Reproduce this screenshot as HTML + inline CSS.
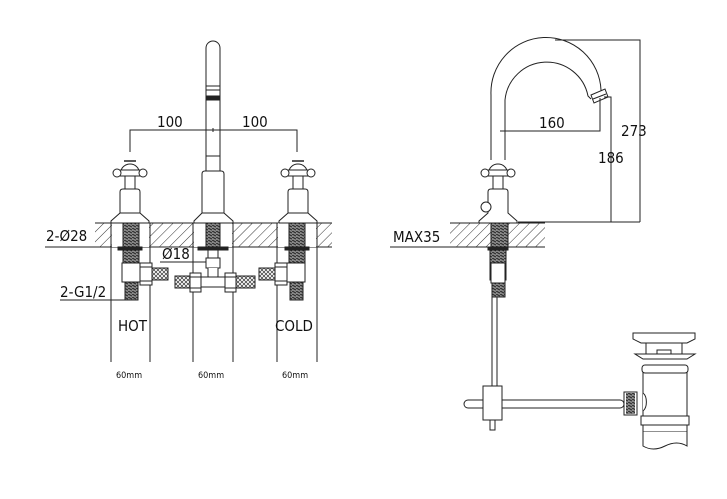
<!DOCTYPE html>
<html><head><meta charset="utf-8"><style>
html,body{margin:0;padding:0;background:#fff;}
svg{display:block;}
text{font-family:"DejaVu Sans Condensed","Liberation Sans",sans-serif;fill:#111;}
</style></head><body>
<svg width="727" height="499" viewBox="0 0 727 499" xmlns="http://www.w3.org/2000/svg">
<defs>
<pattern id="h" width="7" height="7" patternUnits="userSpaceOnUse" patternTransform="rotate(45)">
<rect width="7" height="7" fill="#fff"/><line x1="0" y1="0" x2="0" y2="7" stroke="#333" stroke-width="1"/>
</pattern>
<pattern id="x" width="4" height="4" patternUnits="userSpaceOnUse">
<rect width="4" height="4" fill="#fff"/><path d="M0 0L4 4M4 0L0 4" stroke="#333" stroke-width="0.7"/>
</pattern>
<pattern id="t" width="4" height="3" patternUnits="userSpaceOnUse">
<rect width="4" height="3" fill="#888"/><line x1="0" y1="0" x2="4" y2="2" stroke="#222" stroke-width="1"/>
</pattern>
</defs>
<g fill="none" stroke="#222" stroke-width="1">
<!-- LEFT deck -->
<rect x="95" y="223" width="237" height="24" fill="url(#h)" stroke="none"/>
<line x1="95" y1="223" x2="332" y2="223"/><line x1="95" y1="247" x2="332" y2="247"/>
<!-- 60mm vertical lines -->
<path d="M111 223V362M150 223V362M193 223V362M233 223V362M277 223V362M317 223V362"/>
<!-- holes white inside deck -->
<rect x="112" y="223" width="37" height="24" fill="#fff" stroke="none"/>
<rect x="194" y="223" width="38" height="24" fill="#fff" stroke="none"/>
<rect x="278" y="223" width="38" height="24" fill="#fff" stroke="none"/>
<!-- threads -->
<rect x="123" y="223" width="16" height="24" fill="url(#t)"/>
<rect x="206" y="223" width="14" height="24" fill="url(#t)"/>
<rect x="289" y="223" width="16" height="24" fill="url(#t)"/>
<!-- spout -->
<path d="M206 172V48a7 7 0 0 1 14 0V172" fill="#fff"/>
<path d="M206 86h14M206 90h14M206 96h14M206 156h14" />
<rect x="207" y="97" width="12" height="3" fill="#222"/>
<path d="M202 213V174q0-3 3-3h16q3 0 3 3V213l9 8v2H194v-2z" fill="#fff"/>
<line x1="202" y1="213" x2="224" y2="213"/>
<!-- handles -->
<g id="hd">
<path d="M120 213V192q0-3 3-3h14q3 0 3 3V213l9 8v2H111v-2z" fill="#fff"/>
<line x1="120" y1="213" x2="140" y2="213"/>
<rect x="125" y="176" width="10" height="13" fill="#fff"/>
<path d="M121 172a9 8 0 0 1 18 0z" fill="#fff"/>
<rect x="118" y="170" width="24" height="6" fill="#fff"/>
<circle cx="117" cy="173" r="4" fill="#fff"/><circle cx="143" cy="173" r="4" fill="#fff"/>
<line x1="124" y1="161" x2="136" y2="161" stroke-width="1.5"/>
</g>
<use href="#hd" transform="translate(168 0)"/>
<!-- dimension 100/100 -->
<path d="M130 152V130H297V152M213 128v4"/>
<!-- under deck left valve -->
<rect x="118" y="247" width="24" height="3" fill="#222"/>
<rect x="123" y="250" width="16" height="13" fill="url(#t)"/>
<rect x="122" y="263" width="18" height="19" fill="#fff"/>
<rect x="125" y="282" width="13" height="18" fill="url(#t)"/>
<rect x="140" y="263" width="12" height="22" fill="#fff"/>
<path d="M140 267h12M140 281h12"/>
<rect x="152" y="268" width="16" height="12" fill="url(#x)"/>
<!-- right valve -->
<rect x="285" y="247" width="24" height="3" fill="#222"/>
<rect x="289" y="250" width="16" height="13" fill="url(#t)"/>
<rect x="287" y="263" width="18" height="19" fill="#fff"/>
<rect x="290" y="282" width="13" height="18" fill="url(#t)"/>
<rect x="275" y="263" width="12" height="22" fill="#fff"/>
<path d="M275 267h12M275 281h12"/>
<rect x="259" y="268" width="16" height="12" fill="url(#x)"/>
<!-- center -->
<rect x="198" y="247" width="30" height="3" fill="#222"/>
<rect x="208" y="250" width="10" height="8" fill="#fff"/>
<rect x="206" y="258" width="14" height="10" fill="#fff"/>
<path d="M208 268v8a5 5 0 0 0 10 0v-8" fill="#fff"/>
<rect x="175" y="276" width="15" height="12" fill="url(#x)"/>
<rect x="236" y="276" width="19" height="12" fill="url(#x)"/>
<rect x="201" y="277" width="24" height="10" fill="#fff"/>
<rect x="190" y="273" width="11" height="19" fill="#fff"/><path d="M190 277h11M190 288h11"/>
<rect x="225" y="273" width="11" height="19" fill="#fff"/><path d="M225 277h11M225 288h11"/>
<!-- label leader lines -->
<path d="M45 247H95M60 300H138M160 262H206"/>

<!-- RIGHT view -->
<rect x="450" y="223" width="95" height="24" fill="url(#h)" stroke="none"/>
<line x1="450" y1="223" x2="545" y2="223"/><line x1="450" y1="247" x2="545" y2="247"/>
<rect x="491" y="223" width="17" height="24" fill="url(#t)"/>
<path d="M390 247H450"/>
<!-- gooseneck -->
<path d="M491 160V95a55 55 0 0 1 110 -5l5 3M505 160V100a42 42 0 0 1 83 -4l3 3"/>
<path d="M591 95l14 -6l3 8l-14 6z" fill="#fff"/>
<path d="M593 99l13 -5"/>
<!-- handle right -->
<path d="M488 213V192q0-3 3-3h14q3 0 3 3V213l9 8v2H479v-2z" fill="#fff"/>
<rect x="493" y="176" width="10" height="13" fill="#fff"/>
<path d="M489 172a9 8 0 0 1 18 0z" fill="#fff"/>
<rect x="486" y="170" width="24" height="6" fill="#fff"/>
<circle cx="485" cy="173" r="4" fill="#fff"/><circle cx="511" cy="173" r="4" fill="#fff"/>
<circle cx="486" cy="207" r="5" fill="#fff"/>
<!-- dims -->
<path d="M555 40H640V222M518 222H640M604 97H611V222M500 131H600V98"/>
<!-- under deck right -->
<rect x="488" y="247" width="20" height="3" fill="#222"/>
<rect x="490" y="250" width="16" height="30" fill="url(#t)"/>
<rect x="491" y="263" width="14" height="20" fill="#fff"/>
<rect x="492" y="283" width="13" height="14" fill="url(#t)"/>
<rect x="492" y="297" width="5" height="90" fill="#fff"/>
<rect x="464" y="400" width="160" height="8" rx="4" fill="#fff"/>
<rect x="483" y="386" width="19" height="34" fill="#fff"/>
<rect x="490" y="420" width="5" height="10" fill="#fff"/>
<!-- drain -->
<rect x="643" y="372" width="44" height="60" fill="#fff"/>
<path d="M643 432v14q10 6 22 0t22 0v-14" fill="#fff"/>
<rect x="641" y="416" width="48" height="9" fill="#fff"/>
<path d="M633 333h62v6l-8 4h-46l-8-4z" fill="#fff"/>
<rect x="646" y="343" width="36" height="12" fill="#fff"/>
<path d="M635 354h60l-8 5h-44z" fill="#fff"/>
<rect x="642" y="365" width="46" height="8" rx="3" fill="#fff"/>
<rect x="657" y="350" width="14" height="4" fill="#fff"/>
<path d="M643 393a6 10 0 0 1 0 18" fill="#fff"/>
<rect x="624" y="392" width="13" height="23" fill="#fff"/>
<rect x="626" y="393" width="9" height="21" fill="url(#t)" stroke="none"/>
</g>
<g font-size="15">
<text x="157" y="127">100</text>
<text x="242" y="127">100</text>
<text x="46" y="241">2-Ø28</text>
<text x="162" y="259">Ø18</text>
<text x="60" y="297">2-G1/2</text>
<text x="118" y="331">HOT</text>
<text x="275" y="331">COLD</text>
<text x="539" y="128">160</text>
<text x="621" y="136">273</text>
<text x="598" y="163">186</text>
<text x="393" y="242">MAX35</text>
</g>
<g font-size="9">
<text x="116" y="378">60mm</text>
<text x="198" y="378">60mm</text>
<text x="282" y="378">60mm</text>
</g>
</svg>
</body></html>
